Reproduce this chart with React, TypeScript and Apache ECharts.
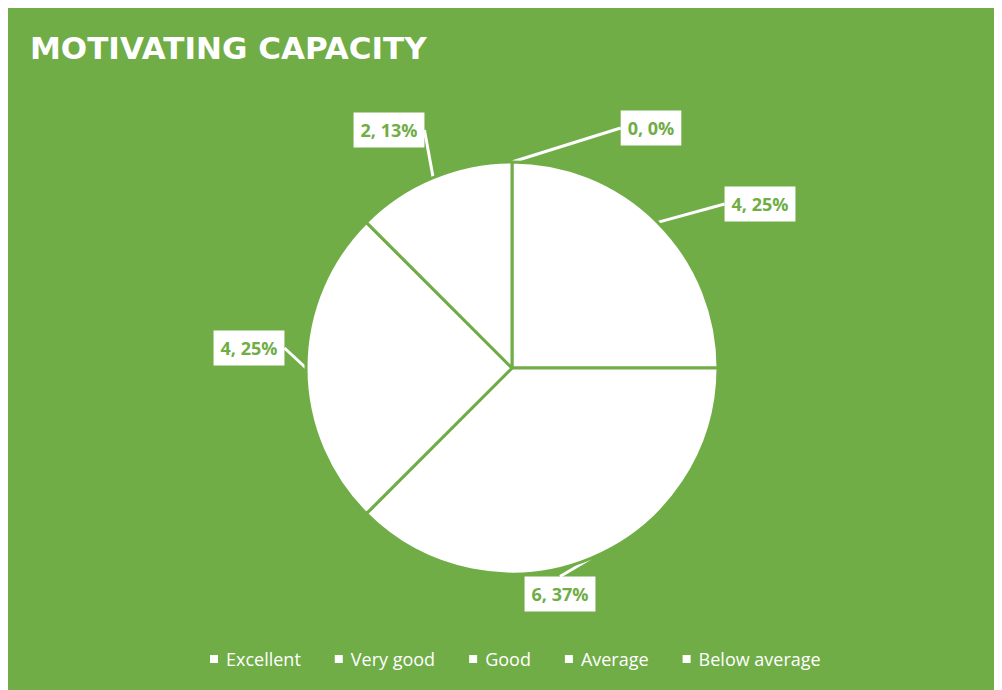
import React, { useEffect, useRef } from "react";
import * as echarts from "echarts";

const title = "MOTIVATING CAPACITY";
const categories = ["Excellent", "Very good", "Good", "Average", "Below average"];
const counts = [0, 4, 6, 4, 2];
const percentLabels = ["0%", "25%", "37%", "25%", "13%"];

// label centre positions (chart px)
const labelPos: [number, number][] = [
  [643, 120],
  [752, 196],
  [552, 586],
  [241, 340],
  [381, 122],
];

const GREEN = "#70AD47";

export default function App() {
  const ref = useRef<HTMLDivElement>(null);
  useEffect(() => {
    if (!ref.current) return;
    const chart = echarts.init(ref.current, null, { renderer: "svg" });
    chart.setOption({
      animation: false,
      backgroundColor: GREEN,
      title: {
        text: title,
        left: 17,
        top: 19,
        textStyle: {
          color: "#ffffff",
          fontFamily: "DejaVu Sans",
          fontWeight: "bold",
          fontSize: 31,
        },
      },
      legend: {
        bottom: 17,
        left: 195,
        icon: "rect",
        itemWidth: 10,
        itemHeight: 10,
        itemGap: 32,
        data: categories,
        textStyle: {
          color: "#ffffff",
          fontFamily: "Open Sans",
          fontSize: 18,
          padding: [0, 0, 0, 2],
        },
      },
      series: [
        {
          type: "pie",
          center: [504, 360],
          radius: 206,
          startAngle: 90,
          clockwise: true,
          color: ["#ffffff"],
          itemStyle: { color: "#ffffff", borderColor: GREEN, borderWidth: 3 },
          emphasis: { disabled: true },
          label: {
            show: true,
            position: "outside",
            formatter: (p: any) => `${p.value}, ${percentLabels[p.dataIndex]}`,
            color: GREEN,
            fontFamily: "Open Sans",
            fontWeight: "bold",
            fontSize: 18,
            lineHeight: 20,
            backgroundColor: "#ffffff",
            padding: [8, 7, 7, 7],
          },
          labelLine: {
            show: true,
            length: 10,
            length2: 0,
            lineStyle: { color: "#ffffff", width: 3 },
          },
          labelLayout: (params: any) => {
            const pos = labelPos[params.dataIndex];
            return {
              x: pos[0],
              y: pos[1],
              align: "center",
              verticalAlign: "middle",
            };
          },
          data: categories.map((name, i) => ({ name, value: counts[i] })),
        },
      ],
    });
    return () => chart.dispose();
  }, []);
  return <div ref={ref} style={{ width: 994, height: 682 }} />;
}
